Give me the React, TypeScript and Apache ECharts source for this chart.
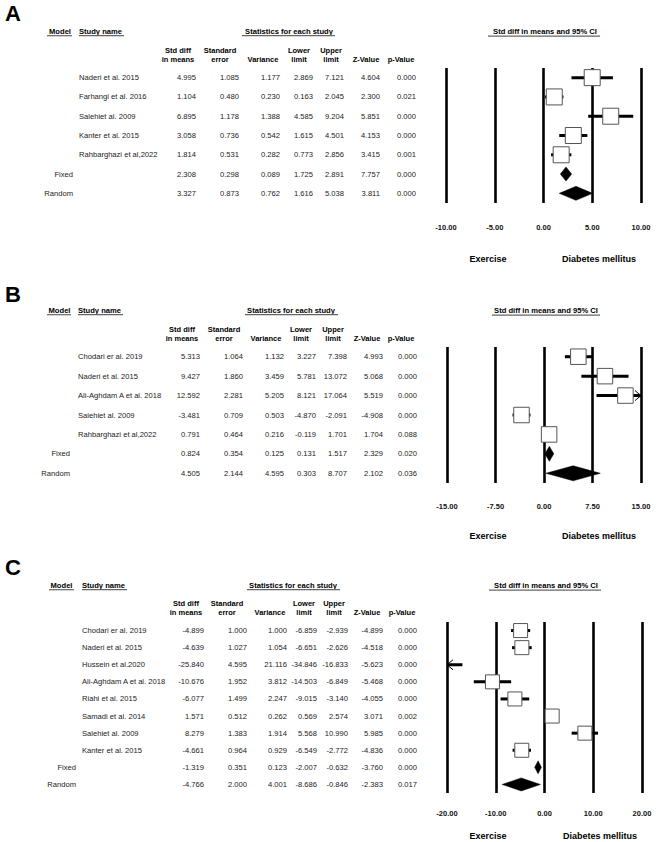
import React, { useEffect, useRef } from "react";
import * as echarts from "echarts";

const FONT = "'Liberation Sans', Arial, Helvetica, sans-serif";

// ---------- Panel A ----------
const studiesA = ["Naderi et al. 2015", "Farhangi et al. 2016", "Salehiet al. 2009", "Kanter et al. 2015", "Rahbarghazi et al,2022"];
const modelsA = ["Fixed", "Random"];
const estA = [4.995, 1.104, 6.895, 3.058, 1.814, 2.308, 3.327];
const seA = [1.085, 0.48, 1.178, 0.736, 0.531, 0.298, 0.873];
const varA = [1.177, 0.23, 1.388, 0.542, 0.282, 0.089, 0.762];
const lowA = [2.869, 0.163, 4.585, 1.615, 0.773, 1.725, 1.616];
const upA = [7.121, 2.045, 9.204, 4.501, 2.856, 2.891, 5.038];
const zA = [4.604, 2.3, 5.851, 4.153, 3.415, 7.757, 3.811];
const pA = [0.0, 0.021, 0.0, 0.0, 0.001, 0.0, 0.0];
const ticksA = [-10, -5, 0, 5, 10];

// ---------- Panel B ----------
const studiesB = ["Chodari er al. 2019", "Naderi et al. 2015", "Ali-Aghdam A et al. 2018", "Salehiet al. 2009", "Rahbarghazi et al,2022"];
const modelsB = ["Fixed", "Random"];
const estB = [5.313, 9.427, 12.592, -3.481, 0.791, 0.824, 4.505];
const seB = [1.064, 1.86, 2.281, 0.709, 0.464, 0.354, 2.144];
const varB = [1.132, 3.459, 5.205, 0.503, 0.216, 0.125, 4.595];
const lowB = [3.227, 5.781, 8.121, -4.87, -0.119, 0.131, 0.303];
const upB = [7.398, 13.072, 17.064, -2.091, 1.701, 1.517, 8.707];
const zB = [4.993, 5.068, 5.519, -4.908, 1.704, 2.329, 2.102];
const pB = [0.0, 0.0, 0.0, 0.0, 0.088, 0.02, 0.036];
const ticksB = [-15, -7.5, 0, 7.5, 15];

// ---------- Panel C ----------
const studiesC = ["Chodari er al. 2019", "Naderi et al. 2015", "Hussein et al.2020", "Ali-Aghdam A et al. 2018", "Riahi et al. 2015", "Samadi et al. 2014", "Salehiet al. 2009", "Kanter et al. 2015"];
const modelsC = ["Fixed", "Random"];
const estC = [-4.899, -4.639, -25.84, -10.676, -6.077, 1.571, 8.279, -4.661, -1.319, -4.766];
const seC = [1.0, 1.027, 4.595, 1.952, 1.499, 0.512, 1.383, 0.964, 0.351, 2.0];
const varC = [1.0, 1.054, 21.116, 3.812, 2.247, 0.262, 1.914, 0.929, 0.123, 4.001];
const lowC = [-6.859, -6.651, -34.846, -14.503, -9.015, 0.569, 5.568, -6.549, -2.007, -8.686];
const upC = [-2.939, -2.626, -16.833, -6.849, -3.14, 2.574, 10.99, -2.772, -0.632, -0.846];
const zC = [-4.899, -4.518, -5.623, -5.468, -4.055, 3.071, 5.985, -4.836, -3.76, -2.383];
const pC = [0.0, 0.0, 0.0, 0.0, 0.0, 0.002, 0.0, 0.0, 0.0, 0.017];
const ticksC = [-20, -10, 0, 10, 20];

const colHead1 = ["Std diff", "Standard", "", "Lower", "Upper", "", ""];
const colHead2 = ["in means", "error", "Variance", "limit", "limit", "Z-Value", "p-Value"];
const plotTitle = "Std diff in means and 95% CI";
const leftLabel = "Exercise";
const rightLabel = "Diabetes mellitus";

type Layout = {
  letterY: number; headY: number; modelC: number; modelU: [number, number];
  studyX: number; studyU: [number, number]; statsC: number; statsU: [number, number];
  headC: number[]; headY1: number; headY2: number; colR: number[]; modelR: number;
  grid: { left: number; top: number; width: number; height: number };
  labelMargin: number; titleC: number; titleU: [number, number]; exY: number; exC: number; dmC: number;
  sq: number; dh: number;
};

type Panel = {
  letter: string; studies: string[]; models: string[];
  est: number[]; se: number[]; vr: number[]; lo: number[]; hi: number[]; z: number[]; p: number[];
  ticks: number[]; L: Layout;
};

const panels: Panel[] = [
  {
    letter: "A", studies: studiesA, models: modelsA, est: estA, se: seA, vr: varA, lo: lowA, hi: upA, z: zA, p: pA, ticks: ticksA,
    L: {
      letterY: 13.5, headY: 31.7, modelC: 60, modelU: [47, 72], studyX: 79, studyU: [79, 124], statsC: 289, statsU: [242, 335],
      headC: [178, 220, 263, 299, 331, 366, 401], headY1: 50, headY2: 59, colR: [196, 239, 280, 313, 344, 380, 416], modelR: 73,
      grid: { left: 446, top: 68, width: 195, height: 135 }, labelMargin: 20, titleC: 545, titleU: [488, 600], exY: 259, exC: 488, dmC: 599,
      sq: 16, dh: 14,
    },
  },
  {
    letter: "B", studies: studiesB, models: modelsB, est: estB, se: seB, vr: varB, lo: lowB, hi: upB, z: zB, p: pB, ticks: ticksB,
    L: {
      letterY: 294.5, headY: 310.7, modelC: 59.5, modelU: [47, 71], studyX: 78, studyU: [78, 123], statsC: 291, statsU: [245, 338],
      headC: [182, 224, 266, 301, 333, 367, 401], headY1: 329, headY2: 338, colR: [200, 243, 284, 316, 347, 383, 417], modelR: 70,
      grid: { left: 447, top: 347, width: 194, height: 136 }, labelMargin: 19, titleC: 546, titleU: [492, 600], exY: 536, exC: 488, dmC: 599,
      sq: 15.5, dh: 15,
    },
  },
  {
    letter: "C", studies: studiesC, models: modelsC, est: estC, se: seC, vr: varC, lo: lowC, hi: upC, z: zC, p: pC, ticks: ticksC,
    L: {
      letterY: 567.5, headY: 585.7, modelC: 61.5, modelU: [49, 74], studyX: 82, studyU: [82, 127], statsC: 293, statsU: [247, 340],
      headC: [186, 227, 270, 304, 334, 367, 402], headY1: 603, headY2: 612, colR: [204, 247, 287, 317, 348, 383, 417], modelR: 76,
      grid: { left: 447, top: 622, width: 195, height: 171 }, labelMargin: 16.5, titleC: 546, titleU: [489, 601], exY: 836, exC: 488, dmC: 600,
      sq: 14, dh: 13,
    },
  },
];

const txt = (x: number, y: number, text: string, o: any = {}) => ({
  type: "text", x, y, silent: true,
  style: {
    text, fontFamily: FONT, fontSize: o.size ?? 7.6, fontWeight: o.bold ? "bold" : "normal",
    fill: o.color ?? "#000", align: o.align ?? "center", verticalAlign: "middle",
  },
});
const hline = (x1: number, x2: number, y: number) => ({
  type: "line", silent: true, shape: { x1, y1: y, x2, y2: y }, style: { stroke: "#666", lineWidth: 1.2 },
});

function buildOption() {
  const grid: any[] = [], xAxis: any[] = [], yAxis: any[] = [], series: any[] = [], graphic: any[] = [];
  panels.forEach((P, k) => {
    const L = P.L;
    const n = P.est.length;
    const ns = P.studies.length;
    const tmin = P.ticks[0], tmax = P.ticks[P.ticks.length - 1], step = P.ticks[1] - P.ticks[0];
    grid.push({ ...L.grid });
    xAxis.push({
      type: "value", gridIndex: k, min: tmin, max: tmax, interval: step,
      axisLine: { show: false }, axisTick: { show: false },
      splitLine: { show: true, lineStyle: { color: "#000", width: 2.6 } },
      axisLabel: {
        margin: L.labelMargin, fontSize: 7.5, fontWeight: "bold", fontFamily: FONT, color: "#111",
        showMinLabel: true, showMaxLabel: true, formatter: (v: number) => v.toFixed(2),
      },
    });
    yAxis.push({ type: "value", gridIndex: k, min: -0.5, max: n - 0.5, inverse: true, show: false });

    const rows = P.est.map((e, i) => [i, e, P.lo[i], P.hi[i], i < ns ? 0 : 1, P.se[i], P.vr[i], P.z[i], P.p[i]]);

    // forest marks
    series.push({
      type: "custom", xAxisIndex: k, yAxisIndex: k, clip: false, silent: true, data: rows,
      renderItem: (_params: any, api: any) => {
        const row = api.value(0), est = api.value(1), lo = api.value(2), hi = api.value(3), kind = api.value(4);
        const y = api.coord([0, row])[1];
        const xc = api.coord([est, row])[0];
        const xl = api.coord([Math.max(lo, tmin), row])[0];
        const xr = api.coord([Math.min(hi, tmax), row])[0];
        const children: any[] = [];
        if (kind === 1) {
          children.push({
            type: "polygon",
            shape: { points: [[xl, y], [xc, y - L.dh / 2], [xr, y], [xc, y + L.dh / 2]] },
            style: { fill: "#000", stroke: "#000", lineWidth: 0.5 },
          });
        } else {
          children.push({ type: "line", shape: { x1: xl, y1: y, x2: xr, y2: y }, style: { stroke: "#000", lineWidth: 3 } });
          if (lo < tmin) children.push({ type: "polyline", shape: { points: [[xl + 6, y - 5], [xl, y], [xl + 6, y + 5]] }, style: { stroke: "#000", lineWidth: 1, fill: "none" } });
          if (hi > tmax) children.push({ type: "polyline", shape: { points: [[xr - 6, y - 5], [xr, y], [xr - 6, y + 5]] }, style: { stroke: "#000", lineWidth: 1, fill: "none" } });
          if (est >= tmin && est <= tmax) {
            children.push({
              type: "rect", shape: { x: xc - L.sq / 2, y: y - L.sq / 2, width: L.sq, height: L.sq },
              style: { fill: "#fff", stroke: "#555", lineWidth: 1 },
            });
          }
        }
        return { type: "group", children };
      },
    });

    // table rows
    series.push({
      type: "custom", xAxisIndex: k, yAxisIndex: k, clip: false, silent: true, data: rows,
      renderItem: (params: any, api: any) => {
        const i = params.dataIndex;
        const row = api.value(0);
        const y = api.coord([0, row])[1];
        const vals = [api.value(1), api.value(5), api.value(6), api.value(2), api.value(3), api.value(7), api.value(8)];
        const children: any[] = [];
        if (i < ns) children.push(txt(L.studyX, y, P.studies[i], { align: "left", color: "#222" }));
        else children.push(txt(L.modelR, y, P.models[i - ns], { align: "right", color: "#222" }));
        vals.forEach((v: number, c: number) => {
          children.push(txt(L.colR[c], y, v.toFixed(3), { align: "right", color: "#222" }));
        });
        return { type: "group", children };
      },
    });

    // static headers
    graphic.push(txt(5, L.letterY, P.letter, { size: 22, bold: true, align: "left" }));
    graphic.push(txt(L.modelC, L.headY, "Model", { bold: true, size: 7.6 }));
    graphic.push(hline(L.modelU[0], L.modelU[1], L.headY + 4));
    graphic.push(txt(L.studyX, L.headY, "Study name", { bold: true, size: 7.6, align: "left" }));
    graphic.push(hline(L.studyU[0], L.studyU[1], L.headY + 4));
    graphic.push(txt(L.statsC, L.headY, "Statistics for each study", { bold: true, size: 7.6 }));
    graphic.push(hline(L.statsU[0], L.statsU[1], L.headY + 4));
    colHead1.forEach((h, c) => { if (h) graphic.push(txt(L.headC[c], L.headY1, h, { bold: true, size: 7.5 })); });
    colHead2.forEach((h, c) => { if (h) graphic.push(txt(L.headC[c], L.headY2, h, { bold: true, size: 7.5 })); });
    graphic.push(txt(L.titleC, L.headY, plotTitle, { bold: true, size: 7.6 }));
    graphic.push(hline(L.titleU[0], L.titleU[1], L.headY + 4.5));
    graphic.push(txt(L.exC, L.exY, leftLabel, { bold: true, size: 9 }));
    graphic.push(txt(L.dmC, L.exY, rightLabel, { bold: true, size: 9 }));
  });

  return {
    animation: false,
    backgroundColor: "#fff",
    grid, xAxis, yAxis, series, graphic,
  };
}

export default function App() {
  const ref = useRef<HTMLDivElement>(null);
  useEffect(() => {
    if (!ref.current) return;
    const chart = echarts.init(ref.current, undefined, { renderer: "svg" });
    chart.setOption(buildOption() as any);
    return () => chart.dispose();
  }, []);
  return (
    <div
      ref={ref}
      style={{ position: "absolute", left: 0, top: 0, width: 660, height: 842, background: "#fff" }}
    />
  );
}
